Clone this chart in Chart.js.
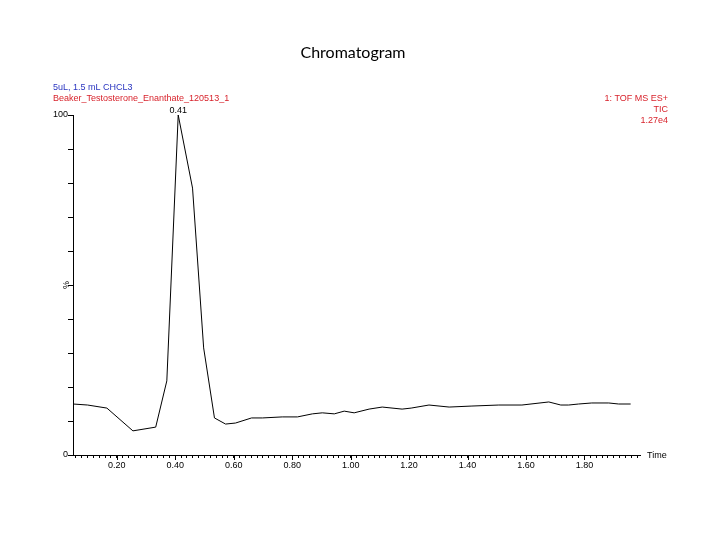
<!DOCTYPE html>
<html lang="en">
<head>
  <meta charset="UTF-8">
  <title>Chromatogram</title>
  <script src="https://cdn.jsdelivr.net/npm/chart.js"></script>
  <style>
    body { margin: 0; background: #fff; }
    #chart { display: block; }
  </style>
</head>
<body>
  <canvas id="chart" width="722" height="552"></canvas>
  <script>
    // retention time (min) and relative intensity (%)
    const times = [0.05, 0.10, 0.166, 0.255, 0.333, 0.371, 0.41, 0.459, 0.497, 0.534,
      0.572, 0.606, 0.661, 0.698, 0.766, 0.818, 0.869, 0.903, 0.944, 0.978,
      1.012, 1.063, 1.108, 1.176, 1.207, 1.268, 1.337, 1.415, 1.507, 1.586,
      1.678, 1.719, 1.746, 1.780, 1.825, 1.883, 1.917, 1.958];
    const intensity = [15.0, 14.7, 13.8, 7.1, 8.2, 21.8, 100, 78.5, 31.5, 10.9,
      9.1, 9.4, 10.9, 10.9, 11.2, 11.2, 12.1, 12.4, 12.1, 12.9,
      12.4, 13.5, 14.1, 13.5, 13.8, 14.7, 14.1, 14.4, 14.7, 14.7,
      15.6, 14.7, 14.7, 15.0, 15.3, 15.3, 15.0, 15.0];
    const xMajorTicks = [0.20, 0.40, 0.60, 0.80, 1.00, 1.20, 1.40, 1.60, 1.80];
    const yLabelTicks = [0, 100];
    const peakLabel = { time: 0.41, value: 100, text: '0.41' };

    const points = times.map((t, i) => ({ x: t, y: intensity[i] }));
    const isMajor = v => xMajorTicks.some(m => Math.abs(m - v) < 1e-6);

    const textPlugin = {
      id: 'chromText',
      afterDraw(chart) {
        const ctx = chart.ctx;
        const xs = chart.scales.x;
        const ys = chart.scales.y;
        ctx.save();

        // title
        ctx.fillStyle = '#000';
        ctx.font = '16px Lato';
        ctx.textAlign = 'center';
        ctx.textBaseline = 'middle';
        ctx.fillText('Chromatogram', 353, 53);

        // header texts
        ctx.font = '9px "Liberation Sans"';
        ctx.textAlign = 'left';
        ctx.fillStyle = '#2a35c0';
        ctx.fillText('5uL, 1.5 mL CHCL3', 53, 88);
        ctx.fillStyle = '#d8232c';
        ctx.fillText('Beaker_Testosterone_Enanthate_120513_1', 53, 99);
        ctx.textAlign = 'right';
        ctx.fillText('1: TOF MS ES+', 668, 99);
        ctx.fillText('TIC', 668, 110);
        ctx.fillText('1.27e4', 668, 121);

        // peak label
        ctx.fillStyle = '#000';
        ctx.textAlign = 'center';
        ctx.fillText(peakLabel.text, xs.getPixelForValue(peakLabel.time), ys.getPixelForValue(peakLabel.value) - 4);

        // axis names
        ctx.textAlign = 'left';
        ctx.fillText('Time', xs.right + 7, xs.top + 1);
        ctx.save();
        ctx.translate(ys.right - 6, ys.getPixelForValue(50));
        ctx.rotate(-Math.PI / 2);
        ctx.textAlign = 'center';
        ctx.fillText('%', 0, 0);
        ctx.restore();

        // longer major ticks on the time axis
        ctx.strokeStyle = '#000';
        ctx.lineWidth = 1;
        ctx.beginPath();
        xMajorTicks.forEach(v => {
          const px = Math.round(xs.getPixelForValue(v)) + 0.5;
          ctx.moveTo(px, xs.top);
          ctx.lineTo(px, xs.top + 5);
        });
        ctx.stroke();
        ctx.restore();
      }
    };

    new Chart(document.getElementById('chart'), {
      type: 'line',
      data: {
        datasets: [{
          data: points,
          borderColor: '#000',
          borderWidth: 1,
          pointRadius: 0,
          tension: 0,
          fill: false
        }]
      },
      options: {
        responsive: false,
        animation: false,
        devicePixelRatio: 1,
        layout: { padding: { top: 115, right: 82, left: 0, bottom: 0 } },
        plugins: {
          legend: { display: false },
          tooltip: { enabled: false }
        },
        scales: {
          x: {
            type: 'linear',
            min: 0.05,
            max: 1.99,
            afterFit(scale) { scale.height = 97; },
            afterBuildTicks(scale) {
              // minor ticks every 0.02 min
              const ticks = [];
              for (let k = 3; k * 0.02 < scale.max; k++) {
                ticks.push({ value: Math.round(k * 2) / 100 });
              }
              scale.ticks = ticks;
            },
            ticks: {
              autoSkip: false,
              maxRotation: 0,
              padding: 2,
              color: '#000',
              font: { family: 'Liberation Sans', size: 9 },
              callback: v => isMajor(v) ? v.toFixed(2) : ''
            },
            grid: {
              drawOnChartArea: false,
              tickLength: 3,
              tickColor: '#000'
            },
            border: { color: '#000', width: 1 }
          },
          y: {
            min: 0,
            max: 100,
            afterFit(scale) { scale.width = 73; },
            ticks: {
              stepSize: 10,
              padding: 0,
              color: '#000',
              font: { family: 'Liberation Sans', size: 9 },
              callback: v => yLabelTicks.includes(v) ? String(v) : ''
            },
            grid: {
              drawOnChartArea: false,
              tickLength: 5,
              tickColor: '#000'
            },
            border: { color: '#000', width: 1 }
          }
        }
      },
      plugins: [textPlugin]
    });
  </script>
</body>
</html>
